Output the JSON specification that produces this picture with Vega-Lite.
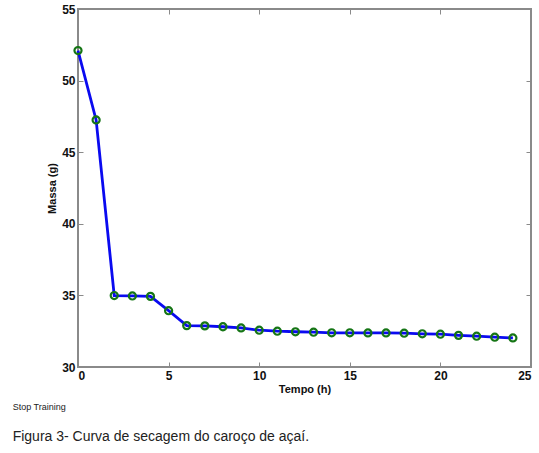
{
  "$schema": "https://vega.github.io/schema/vega-lite/v6.json",
  "width": 453,
  "height": 358,
  "autosize": {"type": "none"},
  "padding": {"left": 78, "top": 9, "right": 8, "bottom": 86},
  "background": "white",
  "config": {
    "view": {"stroke": "#8a8a8a", "strokeWidth": 2},
    "axis": {
      "grid": false,
      "domain": false,
      "tickColor": "#8a8a8a",
      "tickSize": -5,
      "tickWidth": 1,
      "labelFont": "Liberation Sans",
      "labelFontWeight": "bold",
      "labelFontSize": 12,
      "labelColor": "#111",
      "titleFont": "Liberation Sans",
      "titleFontWeight": "bold",
      "titleFontSize": 11,
      "titleColor": "#111"
    }
  },
  "title": {
    "text": "Stop Training",
    "subtitle": "Figura 3- Curva de secagem do caroço de açaí.",
    "orient": "bottom",
    "anchor": "start",
    "frame": "bounds",
    "offset": 9,
    "font": "Liberation Sans",
    "fontSize": 9,
    "fontWeight": "normal",
    "color": "#222",
    "subtitleFont": "Liberation Sans",
    "subtitleFontSize": 14,
    "subtitleColor": "#222",
    "subtitlePadding": 18,
    "dx": -34
  },
  "data": {
    "values": [
      {"t": 0, "m": 52.1},
      {"t": 1, "m": 47.25},
      {"t": 2, "m": 34.99},
      {"t": 3, "m": 34.96},
      {"t": 4, "m": 34.93},
      {"t": 5, "m": 33.93},
      {"t": 6, "m": 32.89},
      {"t": 7, "m": 32.87},
      {"t": 8, "m": 32.81},
      {"t": 9, "m": 32.73},
      {"t": 10, "m": 32.57},
      {"t": 11, "m": 32.5},
      {"t": 12, "m": 32.46},
      {"t": 13, "m": 32.43},
      {"t": 14, "m": 32.39},
      {"t": 15, "m": 32.39},
      {"t": 16, "m": 32.38},
      {"t": 17, "m": 32.38},
      {"t": 18, "m": 32.36},
      {"t": 19, "m": 32.32},
      {"t": 20, "m": 32.29},
      {"t": 21, "m": 32.21},
      {"t": 22, "m": 32.15},
      {"t": 23, "m": 32.08},
      {"t": 24, "m": 32.03}
    ]
  },
  "layer": [
    {
      "mark": {"type": "line", "color": "#0a0af0", "strokeWidth": 2.8},
      "encoding": {
        "x": {"field": "t", "type": "quantitative", "scale": {"domain": [0, 25], "nice": false},
              "axis": {"title": "Tempo (h)", "values": [0, 5, 10, 15, 20, 25], "labelPadding": 8, "titlePadding": 2}},
        "y": {"field": "m", "type": "quantitative", "scale": {"domain": [30, 55], "nice": false, "zero": false},
              "axis": {"title": "Massa (g)", "values": [30, 35, 40, 45, 50, 55], "labelPadding": 8, "titlePadding": 4}}
      }
    },
    {
      "mark": {"type": "point", "shape": "circle", "filled": false, "stroke": "#157515", "strokeWidth": 2.2, "size": 50, "opacity": 1},
      "encoding": {
        "x": {"field": "t", "type": "quantitative", "axis": {"orient": "top", "labels": false, "title": null, "values": [0, 5, 10, 15, 20, 25]}},
        "y": {"field": "m", "type": "quantitative", "axis": {"orient": "right", "labels": false, "title": null, "values": [30, 35, 40, 45, 50, 55]}}
      }
    }
  ],
  "resolve": {"axis": {"x": "independent", "y": "independent"}}
}
